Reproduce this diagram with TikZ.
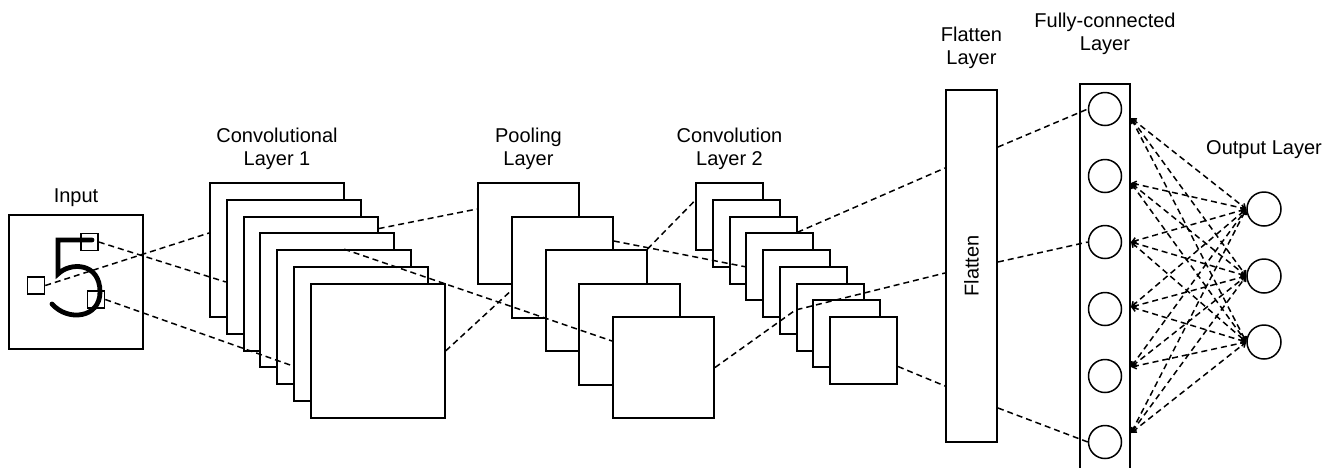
\documentclass[tikz,border=0pt]{standalone}
\usepackage{fontspec}
\setmainfont{Liberation Sans}
\usetikzlibrary{positioning,arrows.meta}

\tikzset{
  fmap/.style={draw, fill=white, line width=1pt, inner sep=0pt, anchor=north west},
  link/.style={dash pattern=on 3pt off 2pt, line width=0.75pt},
  dualarrow/.style={{Straight Barb[length=2pt,width=3pt]}-{Straight Barb[length=2pt,width=3pt]}},
  neuron/.style={draw, circle, line width=0.75pt, inner sep=0pt, minimum size=16.5pt},
  lbl/.style={align=center, inner sep=0pt, font=\fontsize{10}{11.5}\selectfont},
  patch/.style={draw, line width=0.8pt, inner sep=0pt, minimum size=8.5pt},
}

\begin{document}
\begin{tikzpicture}[x=0.5pt, y=-0.5pt]
  \useasboundingbox (0,0) rectangle (1323,467);

  % input image with the digit
  \node[draw, line width=1pt, minimum size=67pt, inner sep=0pt] (inp) at (76,282) {};
  \node[lbl, above=3.5pt of inp] (inplbl) {Input};
  \draw[line width=2.4pt, line cap=round] (92,240) -- (58,240) -- (58,274)
     .. controls (70,262) and (100,262) .. (100,292)
     .. controls (100,318) and (68,322) .. (52,304);
  \node[patch] (pa) at (36,285.5) {};
  \node[patch] (pb) at (89.5,242) {};
  \node[patch] (pc) at (96,299.5) {};

  % convolutional layer 1
  \foreach \i in {0,...,6}
    \node[fmap, minimum size=67pt] (ca\i) at ({209+16.8*\i},{182+16.8*\i}) {};
  \node[lbl, above=6pt of ca0] (calbl) {Convolutional\\Layer 1};

  % pooling layer
  \foreach \i in {0,...,4}
    \node[fmap, minimum size=50.5pt] (pl\i) at ({477+33.75*\i},{182+33.5*\i}) {};
  \node[lbl, above=6pt of pl0] (pllbl) {Pooling\\Layer};

  % convolution layer 2
  \foreach \i in {0,...,8}
    \node[fmap, minimum size=33.5pt] (cb\i) at ({695+16.75*\i},{182+16.75*\i}) {};
  \node[lbl, above=6pt of cb0] (cblbl) {Convolution\\Layer 2};

  % flatten
  \node[draw, line width=1pt, minimum width=25.5pt, minimum height=176pt, inner sep=0pt] (fl) at (971.5,266) {};
  \node[rotate=90, font=\fontsize{10}{12}\selectfont] (fltxt) at (fl) {Flatten};
  \node[lbl, above=10pt of fl] (fllbl) {Flatten\\Layer};

  % fully-connected
  \node[draw, line width=1pt, minimum width=25pt, minimum height=215pt, inner sep=0pt, anchor=north] (fcbox) at (1105,83) {};
  \foreach \i/\y in {1/109,2/176,3/242,4/309,5/376,6/442}
    \node[neuron] (fc\i) at (1105,\y) {};
  \node[lbl, above=14pt of fcbox] (fclbl) {Fully-connected\\Layer};

  % output
  \foreach \j/\y in {1/209,2/276,3/342}
    \node[neuron, minimum size=17pt] (out\j) at (1264,\y) {};
  \node[lbl, above=16pt of out1] (outlbl) {Output Layer};

  % input -> conv 1
  \draw[link] (pa.east) -- ([yshift=8.5pt]ca0.west);
  \draw[link] (pb.east) -- ([yshift=-7.6pt]ca1.west);
  \draw[link] (pc.east) -- ([yshift=-16pt]ca5.west);

  % conv 1 -> pooling
  \draw[link] ([yshift=27.5pt]ca2.east) -- ([yshift=12.25pt]pl0.west);
  \draw[link] (ca4.north) -- ([yshift=13.25pt]pl4.west);
  \draw[link] (ca6.east) -- ([yshift=-12pt]pl1.west);

  % pooling -> conv 2
  \draw[link] ([yshift=13pt]pl1.east) -- (cb3.west);
  \draw[link] (pl2.north east) -- ([yshift=8pt]cb0.west);
  \draw[link] (pl4.east) -- ([yshift=3.5pt]cb6.west) -- ([yshift=-3.5pt]fl.west);

  % conv 2 -> flatten
  \draw[link] (cb2.east |- cb3.north) -- ([yshift=49pt]fl.west);
  \draw[link] ([yshift=-8pt]cb8.east) -- ([yshift=-60pt]fl.west);

  % flatten -> fully-connected
  \draw[link] ([yshift=59.5pt]fl.east) -- (fc1.west);
  \draw[link] ([yshift=2pt]fl.east) -- (fc3.west);
  \draw[link] ([yshift=-71pt]fl.east) -- (fc6.west);

  % fully-connected -> output
  \foreach \i/\s in {1/-4.5,2/-3.5,3/0,4/1,5/4.5,6/4.5}
    \foreach \j in {1,2,3}
      \draw[link, dualarrow] ([yshift=\s pt]fcbox.east |- fc\i) -- (out\j.west);
\end{tikzpicture}
\end{document}
